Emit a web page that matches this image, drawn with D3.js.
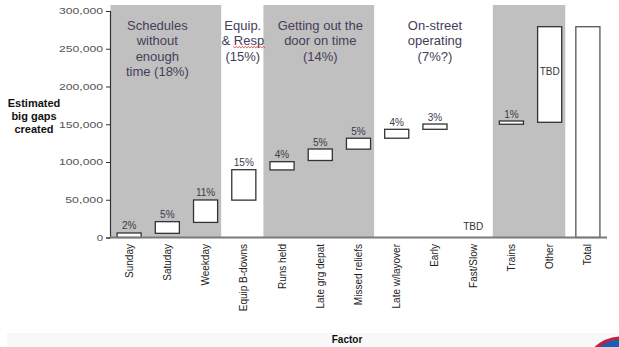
<!DOCTYPE html>
<html>
<head>
<meta charset="utf-8">
<script src="https://cdn.jsdelivr.net/npm/d3@7"></script>
<style>
  html, body { margin: 0; padding: 0; background: #fff; }
  svg { display: block; font-family: "Liberation Sans", Arial, sans-serif; }
</style>
</head>
<body>
<svg id="chart" width="619" height="347"></svg>
<script>
// Factors that create big gaps, drawn as a floating waterfall
const categories = ["Sunday", "Satuday", "Weekday", "Equip B-downs", "Runs held",
  "Late grg depat", "Missed reliefs", "Late w/layover", "Early", "Fast/Slow",
  "Trains", "Other", "Total"];
const barStart = [0, 5500, 20000, 49500, 89500, 102000, 117000, 131500, 143300, null, 150000, 152600, 0];
const barEnd   = [6000, 21000, 49700, 89800, 100400, 117200, 131500, 143300, 150300, null, 154300, 279200, 279200];
const barLabels = ["2%", "5%", "11%", "15%", "4%", "5%", "5%", "4%", "3%", "TBD", "1%", "TBD", ""];
const yTicks = [0, 50000, 100000, 150000, 200000, 250000, 300000];

// Factor groups: heading lines, first and last category, shaded or not
const groupLines = [
  ["Schedules", "without", "enough", "time (18%)"],
  ["Equip.", "& Resp", "(15%)"],
  ["Getting out the", "door on time", "(14%)"],
  ["On-street", "operating", "(7%?)"],
  []
];
const groupFirst = ["Sunday", "Equip B-downs", "Runs held", "Late w/layover", "Trains"];
const groupLast  = ["Weekday", "Equip B-downs", "Missed reliefs", "Fast/Slow", "Other"];
const groupShaded = [true, false, true, false, true];

const yTitle = ["Estimated", "big gaps", "created"];
const xTitle = "Factor";

const svg = d3.select("#chart");
const plotLeft = 110, plotRight = 607, plotTop = 11, plotBottom = 237.5, shadeTop = 5;

const x = d3.scaleBand().domain(categories).range([plotLeft, plotRight])
  .paddingInner(0.37).paddingOuter(0.185);
const y = d3.scaleLinear().domain([0, 300000]).range([plotBottom, plotTop]);
const step = x.step();
const pad = 0.185 * step;

// light footer strip and emblem
svg.append("rect").attr("x", 7).attr("y", 333).attr("width", 612).attr("height", 14).attr("fill", "#f8f8f8");
svg.append("circle").attr("cx", 622).attr("cy", 378).attr("r", 40)
  .attr("fill", "#1a5fb4").attr("stroke", "#c4203c").attr("stroke-width", 3);

// shaded group backgrounds
groupLines.forEach((lines, i) => {
  if (!groupShaded[i]) return;
  const x0 = x(groupFirst[i]) - pad + 0.5;
  const x1 = x(groupLast[i]) + x.bandwidth() + pad - 3.5;
  svg.append("rect").attr("x", x0).attr("y", shadeTop)
    .attr("width", x1 - x0).attr("height", plotBottom - shadeTop).attr("fill", "#c0c0c0");
});

// group headings
const headingShift = [-10, -1, 0, 0, 0];
groupLines.forEach((lines, i) => {
  if (!lines.length) return;
  const cx = (x(groupFirst[i]) + x(groupLast[i]) + x.bandwidth()) / 2 + headingShift[i];
  const t = svg.append("text").attr("text-anchor", "middle").attr("font-size", 13)
    .attr("fill", "#463d58");
  lines.forEach((ln, k) => {
    t.append("tspan").attr("x", cx).attr("y", 30 + k * 15.4).text(ln);
  });
});

// spell-check squiggle under "Resp"
{
  const cx = x("Equip B-downs") + x.bandwidth() / 2 - 1;
  const x0 = cx - 9.5, x1 = cx + 21, yy = 46.5;
  let d = `M${x0},${yy}`;
  for (let px = x0, k = 0; px < x1; px += 1.5, k++) d += `L${px + 1.5},${yy + (k % 2 ? 0 : 1.3)}`;
  svg.append("path").attr("d", d).attr("fill", "none").attr("stroke", "#e02020").attr("stroke-width", 0.8);
}

// y axis
const yAxis = svg.append("g").attr("transform", `translate(${plotLeft},0)`)
  .call(d3.axisLeft(y).tickValues(yTicks).tickSize(4).tickPadding(3)
    .tickFormat(d3.format(",")));
yAxis.select(".domain").attr("stroke", "#333").attr("stroke-width", 1.2);
yAxis.selectAll(".tick line").attr("stroke", "#333");
yAxis.selectAll(".tick text").attr("font-size", 9).attr("fill", "#555")
  .attr("font-family", "Liberation Sans, Arial, sans-serif")
  .each(function () {
    const s = d3.select(this);
    const len = s.text().length;
    s.attr("textLength", len * 6.3).attr("lengthAdjust", "spacingAndGlyphs");
  });

// floating bars
const idx = d3.range(categories.length).filter(i => barStart[i] !== null);
svg.selectAll("rect.bar").data(idx).join("rect").attr("class", "bar")
  .attr("x", i => x(categories[i]))
  .attr("y", i => y(barEnd[i]))
  .attr("width", x.bandwidth())
  .attr("height", i => y(barStart[i]) - y(barEnd[i]))
  .attr("fill", "#fff")
  .attr("stroke", i => categories[i] === "Total" ? "#555" : "#333")
  .attr("stroke-width", 1.3);

// value labels
d3.range(categories.length).forEach(i => {
  const lab = barLabels[i];
  if (!lab) return;
  const cx = x(categories[i]) + x.bandwidth() / 2;
  let yy;
  if (barStart[i] === null) yy = plotBottom - 7.5;
  else if (lab === "TBD") yy = (y(barStart[i]) + y(barEnd[i])) / 2 + 0.5;
  else yy = y(barEnd[i]) - 3.5;
  svg.append("text").attr("x", cx).attr("y", yy).attr("text-anchor", "middle")
    .attr("font-size", 10).attr("fill", lab === "TBD" ? "#333" : "#3c3a4c").text(lab);
});

// x axis
svg.append("line").attr("x1", plotLeft).attr("x2", plotRight).attr("y1", plotBottom).attr("y2", plotBottom)
  .attr("stroke", "#7a7a7a").attr("stroke-width", 2);
categories.forEach(c => {
  const cx = x(c) + x.bandwidth() / 2;
  svg.append("text").attr("transform", `translate(${cx},244) rotate(-90)`)
    .attr("text-anchor", "end").attr("dy", "0.35em").attr("font-size", 10)
    .attr("fill", "#222").text(c);
});

// axis titles
const yt = svg.append("text").attr("text-anchor", "middle").attr("font-size", 11)
  .attr("font-weight", "bold").attr("fill", "#111");
yTitle.forEach((ln, k) => yt.append("tspan").attr("x", 34).attr("y", 107 + k * 13).text(ln));
svg.append("text").attr("x", 347).attr("y", 343).attr("text-anchor", "middle")
  .attr("font-size", 10).attr("font-weight", "bold").attr("fill", "#111").text(xTitle);
</script>
</body>
</html>
